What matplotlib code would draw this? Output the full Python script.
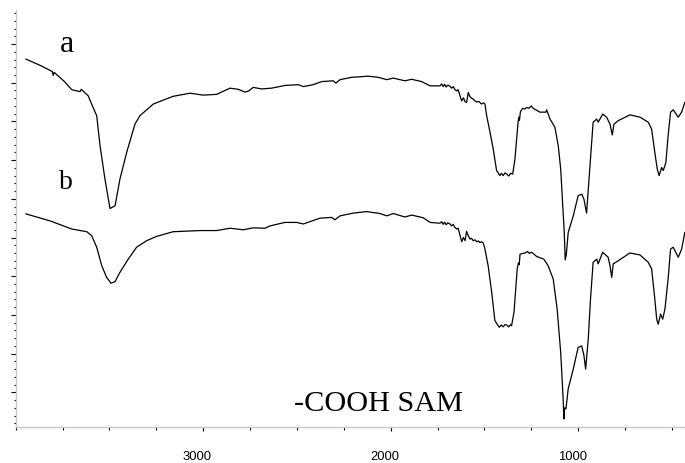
import matplotlib
matplotlib.use("Agg")
import matplotlib.pyplot as plt
from matplotlib.ticker import MultipleLocator, FixedLocator, FixedFormatter, NullFormatter
from matplotlib.transforms import ScaledTranslation

# ---- data (wavenumber, cm^-1 ; transmittance, arbitrary units) ----
wn_a = [3945, 3870, 3805, 3800, 3795, 3740, 3701, 3657, 3650, 3613, 3595, 3568, 3550, 3524, 3497, 3470,
        3444, 3408, 3364, 3337, 3266, 3160, 3070, 3000, 2928, 2857, 2813, 2777, 2760,
        2733, 2688, 2635, 2564, 2493, 2466, 2413, 2368, 2306, 2292, 2270, 2208, 2120,
        2066, 2021, 1986, 1924, 1888, 1835, 1790, 1737, 1728, 1720, 1712, 1704, 1695,
        1684, 1675, 1666, 1657, 1648, 1640, 1630, 1621, 1612, 1603, 1595, 1586, 1577,
        1568, 1560, 1550, 1541, 1532, 1524, 1515, 1506, 1497, 1488, 1470, 1453, 1435,
        1417, 1410, 1400, 1390, 1381, 1370, 1360, 1349, 1337, 1325, 1320, 1316, 1313,
        1308, 1296, 1285, 1275, 1262, 1250, 1240, 1204, 1172, 1168, 1150, 1124, 1106,
        1093, 1083, 1074, 1069, 1063, 1053, 1026, 1000, 981, 969, 955, 943, 928, 920,
        901, 893, 869, 848, 830, 818, 809, 786, 724, 670, 626, 608, 591, 578, 568, 555,
        546, 532, 520, 507, 493, 466, 448, 431]
t_a = [86.1, 84.5, 82.9, 81.9, 82.7, 80.3, 78.2, 77.7, 78.3, 76.6, 74.5, 71.5, 63.7, 55.1, 47.5, 48.2,
       55.1, 62.0, 69.3, 71.5, 74.5, 76.5, 77.3, 76.8, 77.0, 78.6, 78.3, 77.6, 77.8,
       78.8, 78.4, 78.6, 79.3, 79.5, 79.0, 79.5, 80.3, 80.5, 79.9, 80.8, 81.4, 81.7,
       81.4, 80.8, 81.2, 80.5, 80.9, 80.3, 79.2, 79.2, 79.7, 79.0, 79.6, 78.9, 79.4,
       79.1, 78.6, 79.0, 78.2, 77.9, 78.2, 76.6, 75.3, 76.1, 75.1, 74.9, 77.5, 76.4,
       76.0, 75.8, 75.3, 75.0, 75.2, 74.9, 74.5, 74.8, 74.5, 71.5, 67.2, 62.9, 57.3,
       56.0, 56.6, 56.0, 56.7, 56.4, 55.9, 56.6, 56.4, 60.3, 67.2, 70.0, 71.1, 70.3,
       72.5, 73.4, 73.2, 73.6, 73.4, 74.0, 73.4, 72.4, 72.4, 73.0, 70.6, 68.5, 63.7,
       57.7, 49.1, 41.3, 34.2, 35.7, 41.3, 45.6, 50.8, 51.2, 49.9, 46.3, 54.3, 64.6, 69.8,
       70.6, 69.8, 71.9, 71.1, 69.3, 66.5, 69.3, 70.2, 71.7, 71.1, 69.8, 68.0, 62.0, 57.7,
       56.0, 58.1, 57.3, 59.4, 66.3, 72.4, 73.0, 71.1, 72.4, 74.9]

wn_b = [3945, 3817, 3701, 3621, 3595, 3568, 3541, 3515, 3492, 3470, 3444, 3400, 3355, 3301,
        3248, 3160, 3017, 2928, 2857, 2786, 2733, 2670, 2644, 2564, 2501, 2466, 2377,
        2315, 2297, 2270, 2200, 2128, 2057, 2021, 1986, 1924, 1888, 1826, 1790, 1737,
        1728, 1720, 1712, 1704, 1695, 1684, 1675, 1666, 1657, 1648, 1640, 1630, 1621,
        1612, 1603, 1595, 1586, 1577, 1568, 1560, 1550, 1541, 1532, 1524, 1515, 1506,
        1497, 1480, 1461, 1444, 1421, 1410, 1400, 1390, 1381, 1370, 1360, 1355, 1342,
        1325, 1318, 1314, 1310, 1284, 1270, 1260, 1248, 1221, 1183, 1160, 1133, 1112,
        1093, 1080, 1076, 1072, 1065, 1053, 1026, 1000, 981, 969, 960, 946, 934, 920,
        901, 893, 869, 840, 830, 821, 813, 786, 724, 670, 626, 608, 591, 581, 573, 560,
        549, 537, 520, 507, 493, 466, 448, 431]
t_b = [46.1, 44.3, 42.2, 41.5, 40.5, 37.5, 32.7, 29.7, 28.2, 28.6, 31.0, 34.4, 37.5, 39.2,
       40.3, 41.5, 41.8, 41.8, 42.4, 42.0, 42.5, 42.4, 43.0, 43.9, 43.9, 43.5, 45.0,
       45.2, 44.6, 45.6, 46.3, 46.7, 46.2, 45.6, 46.2, 45.3, 45.8, 45.1, 43.9, 43.7,
       44.1, 43.4, 44.0, 43.3, 43.8, 43.5, 43.0, 43.4, 42.6, 42.2, 42.4, 40.5, 38.9,
       40.0, 39.2, 41.6, 40.5, 39.6, 39.8, 39.2, 39.4, 38.9, 39.1, 38.7, 38.9, 38.6,
       37.0, 32.7, 25.8, 18.5, 16.8, 17.4, 16.9, 17.5, 17.4, 16.9, 17.5, 17.2, 20.7,
       31.9, 33.5, 33.0, 35.7, 36.0, 36.4, 35.9, 36.2, 35.1, 34.4, 32.7, 29.3, 21.5,
       10.3, -1.7, -6.9, -4.0, -4.3, 0.9, 6.0, 11.6, 12.0, 9.5, 6.0, 13.8, 24.1, 33.6,
       34.4, 33.2, 36.2, 34.9, 32.7, 29.7, 33.2, 34.0, 36.0, 35.5, 33.6, 31.9, 24.1, 18.9,
       17.6, 20.2, 18.9, 21.5, 29.3, 37.0, 37.5, 34.9, 37.0, 41.3]

xtick_values = [3000, 2000, 1000]
xtick_labels = ["3000", "2000", "1000"]
label_a = "a"
label_b = "b"
title_text = "-COOH SAM"

# ---- figure ----
fig = plt.figure(figsize=(6.85, 4.64), dpi=100)
ax = fig.add_axes([15.7 / 685, 36 / 464, 669.3 / 685, 417 / 464])

ax.plot(wn_a, t_a, color="black", lw=0.9)
ax.plot(wn_b, t_b, color="black", lw=0.9)

ax.set_xlim(4000, 430)
ax.set_ylim(-8.97, 98.8)

for s in ("top", "right"):
    ax.spines[s].set_visible(False)
for s in ("left", "bottom"):
    ax.spines[s].set_color("#c8c8c8")
    ax.spines[s].set_linewidth(1.0)

ax.xaxis.set_major_locator(FixedLocator(xtick_values))
ax.xaxis.set_major_formatter(FixedFormatter(xtick_labels))
ax.xaxis.set_minor_locator(MultipleLocator(250))
ax.yaxis.set_major_locator(MultipleLocator(10))
ax.yaxis.set_minor_locator(MultipleLocator(2))
ax.yaxis.set_major_formatter(NullFormatter())

ax.tick_params(axis="x", which="major", direction="out", length=3.0, width=0.8,
               color="black", pad=13.5, labelsize=9.4)
ax.tick_params(axis="x", which="minor", direction="out", length=1.8, width=0.8, color="black")
ax.tick_params(axis="y", which="major", direction="out", length=3.4, width=0.8, color="black")
ax.tick_params(axis="y", which="minor", direction="out", length=1.8, width=0.8, color="black")

for lab in ax.get_xticklabels():
    lab.set_fontfamily(["Liberation Sans", "DejaVu Sans"])
    lab.set_transform(lab.get_transform() + ScaledTranslation(-6 / 100, 0, fig.dpi_scale_trans))

serif = ["Liberation Serif", "DejaVu Serif"]
ax.text(3764, 88.3, label_a, family=serif, fontsize=23, ha="left", va="baseline")
ax.text(3767, 52.8, label_b, family=serif, fontsize=20, ha="left", va="baseline")
ax.text(2514, -4.5, title_text, family=serif, fontsize=21.8, ha="left", va="baseline")

fig.savefig("out.png", dpi=100)
